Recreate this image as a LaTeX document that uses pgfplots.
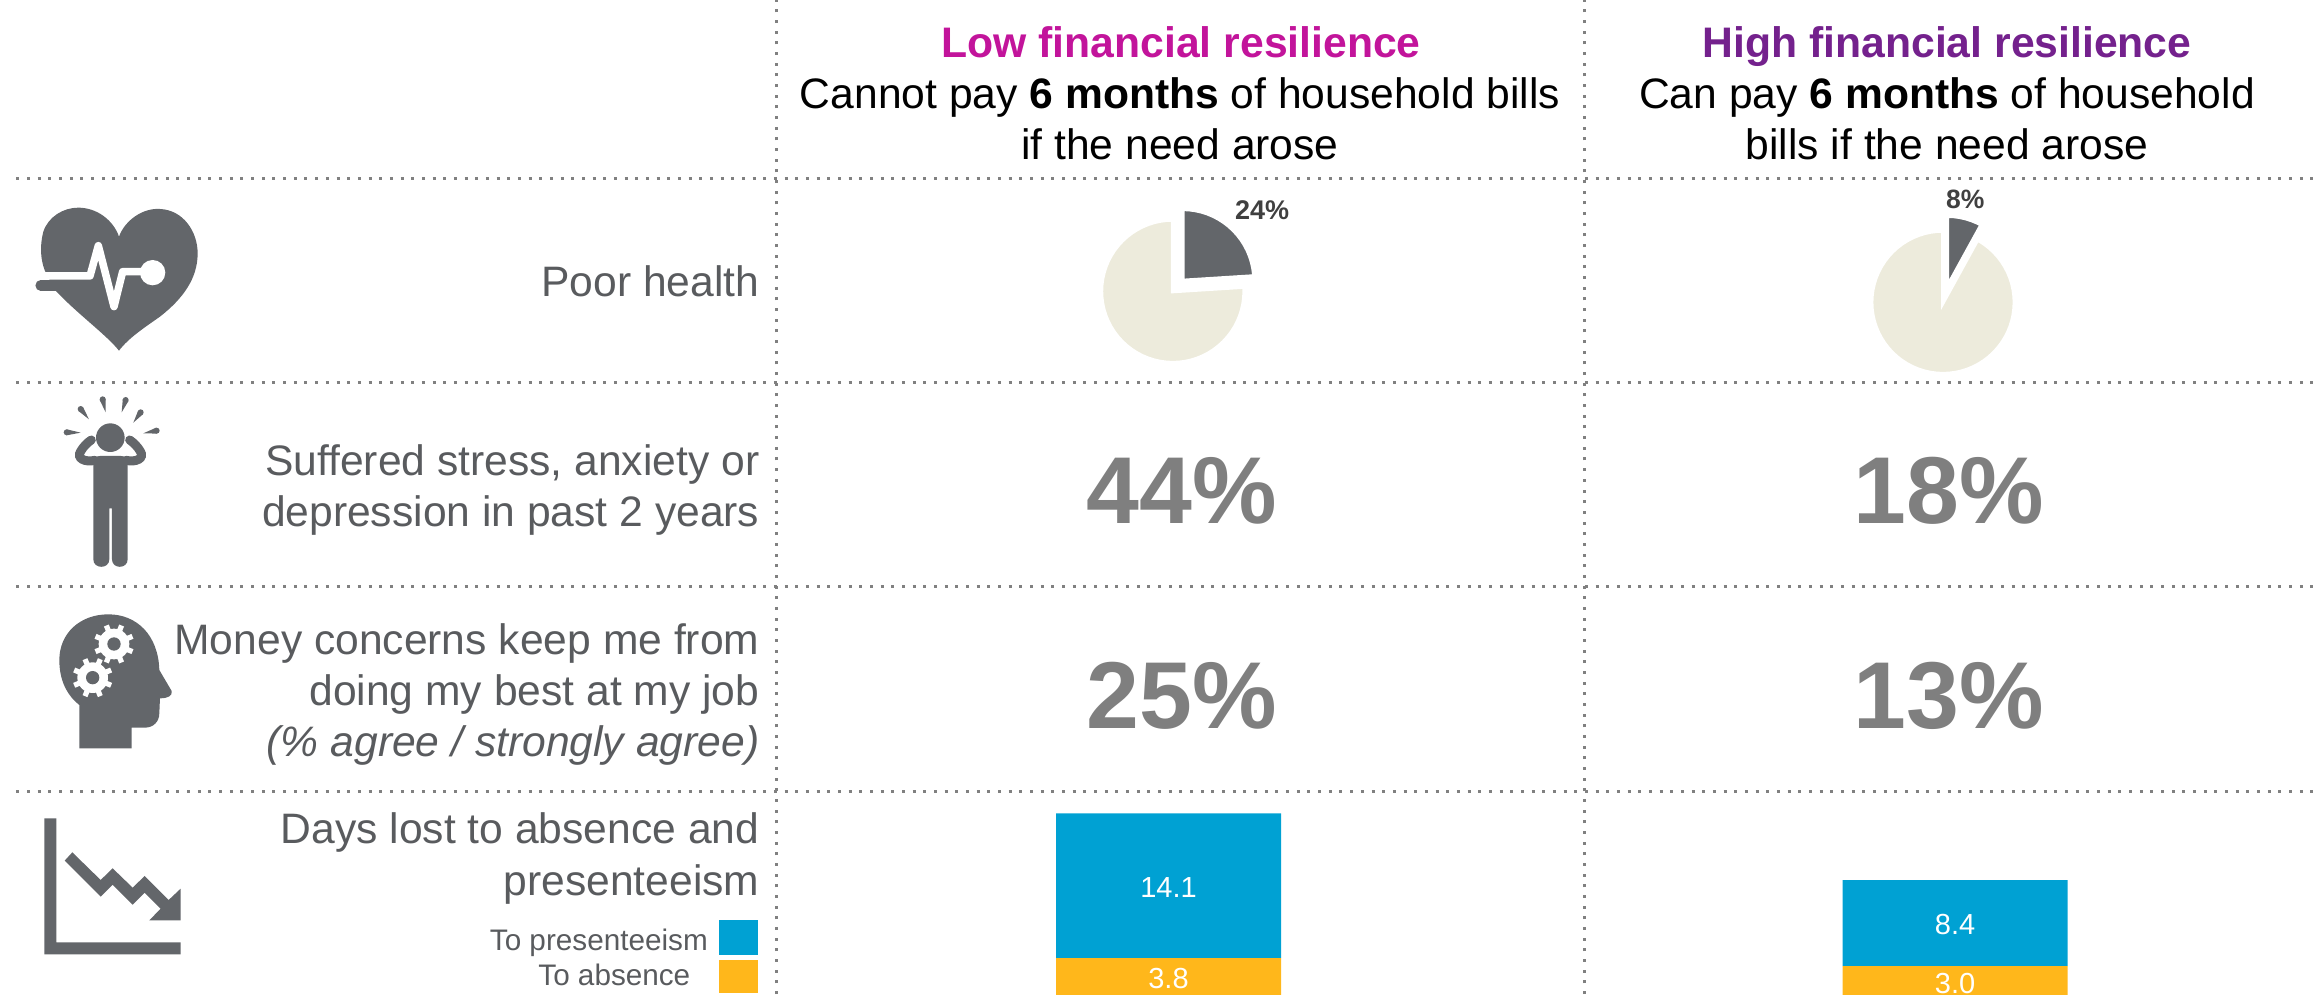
\documentclass[border=0pt]{standalone}
\usepackage{pgfplots}
\pgfplotsset{compat=1.18}
\usepgfplotslibrary{polar}
\usetikzlibrary{calc}
\usepackage{fontspec}
\setmainfont{Liberation Sans}
\pgfkeys{/pgf/number format/assume math mode=true}

\definecolor{iconGrey}{HTML}{63666A}
\definecolor{rowText}{HTML}{595B5E}
\definecolor{bigNum}{HTML}{7F7F7F}
\definecolor{dotGrey}{HTML}{808080}
\definecolor{pieCream}{HTML}{EDEBDC}
\definecolor{pieLabel}{HTML}{404040}
\definecolor{lowHead}{HTML}{C2149B}
\definecolor{highHead}{HTML}{74218D}
\definecolor{presBlue}{HTML}{00A1D3}
\definecolor{absYellow}{HTML}{FFB71B}

% text placed on its baseline
\newcommand{\txt}[5]{\node[anchor=#3,inner sep=0pt,text=#4] at (#1pt,#2pt) {#5};}
\newcommand{\fs}[1]{\fontsize{#1}{#1}\selectfont}

% a pie wedge set: one polar axis per slice, centred on the pie's pole
\pgfplotsset{
  pieaxis/.style={
    hide axis, scale only axis, clip=false,
    width=143.2pt, height=143.2pt,
    xmin=0, xmax=360, ymin=0, ymax=1,
    anchor=center
  }
}

% stress drop: round end and a point towards the head
\newcommand{\drop}[4]{%
  \fill[iconGrey] (#1,#2) circle[radius=9];
  \fill[iconGrey] ($(#1,#2)!3pt!90:(#3,#4)$) -- (#3,#4) -- ($(#1,#2)!3pt!-90:(#3,#4)$) -- cycle;}

\newcommand{\gear}[2]{%
  \begin{scope}[shift={(#1,#2)}]
    \fill[white] (0,0) circle[radius=46];
    \foreach \a in {22.5,67.5,...,360}
      \draw[white,line width=5.2pt] (\a:40) -- (\a:60);
    \fill[iconGrey] (0,0) circle[radius=20];
  \end{scope}}

\begin{document}
\begin{tikzpicture}[x=1pt,y=1pt]
\path[clip,use as bounding box] (0pt,0pt) rectangle (2315pt,994pt);

% table rules
\begin{scope}[dotGrey,line width=3pt,dash pattern=on 3pt off 7.67pt]
  \foreach \y in {178.3,382.3,586.7,791.7}
    \draw (16.4pt,{994-\y}) -- (2315pt,{994-\y});
  \draw (776pt,0pt) -- (776pt,994pt);
  \draw (1584.4pt,0pt) -- (1584.4pt,994pt);
\end{scope}

% column headers
\txt{1181}{936.7}{base}{lowHead}{\fs{42.7}\bfseries Low financial resilience}
\txt{1180}{885}{base}{black}{\fs{42.6}Cannot pay \textbf{6 months} of household bills}
\txt{1180}{834}{base}{black}{\fs{42.6}if the need arose}
\txt{1947}{936.7}{base}{highHead}{\fs{42.7}\bfseries High financial resilience}
\txt{1947}{885}{base}{black}{\fs{42.6}Can pay \textbf{6 months} of household}
\txt{1947}{834}{base}{black}{\fs{42.6}bills if the need arose}

% row labels
\txt{759.5}{697.3}{base east}{rowText}{\fs{42.6}Poor health}
\txt{759.5}{518}{base east}{rowText}{\fs{42.6}Suffered stress, anxiety or}
\txt{759.5}{467.3}{base east}{rowText}{\fs{42.6}depression in past 2 years}
\txt{759.5}{339}{base east}{rowText}{\fs{42.6}Money concerns keep me from}
\txt{759.5}{288}{base east}{rowText}{\fs{42.6}doing my best at my job}
\txt{759.5}{237.3}{base east}{rowText}{\fs{42.6}\itshape (\% agree / strongly agree)}
\txt{759.5}{151}{base east}{rowText}{\fs{42.6}Days lost to absence and}
\txt{759.5}{99}{base east}{rowText}{\fs{42.6}presenteeism}
\txt{708}{44}{base east}{rowText}{\fs{29.7}To presenteeism}
\txt{690.5}{9}{base east}{rowText}{\fs{29.7}To absence}
\fill[presBlue] (719pt,39pt) rectangle (758pt,74pt);
\fill[absYellow] (719pt,0.7pt) rectangle (758pt,34pt);

% headline percentages
\txt{1181.5}{470}{base}{bigNum}{\fs{95}\bfseries 44\%}
\txt{1948.5}{470}{base}{bigNum}{\fs{95}\bfseries 18\%}
\txt{1181.5}{266}{base}{bigNum}{\fs{95}\bfseries 25\%}
\txt{1948.5}{266}{base}{bigNum}{\fs{95}\bfseries 13\%}

% poor health, low resilience: 24%
\begin{polaraxis}[pieaxis, at={(1172.8pt,702.7pt)}]
\addplot[fill=pieCream,draw=white,line width=4pt] coordinates {(0,0)(90,1)(95,1)(100,1)(105,1)(110,1)(115,1)(120,1)(125,1)(130,1)(135,1)(140,1)(145,1)(150,1)(155,1)(160,1)(165,1)(170,1)(175,1)(180,1)(185,1)(190,1)(195,1)(200,1)(205,1)(210,1)(215,1)(220,1)(225,1)(230,1)(235,1)(240,1)(245,1)(250,1)(255,1)(260,1)(265,1)(270,1)(275,1)(280,1)(285,1)(290,1)(295,1)(300,1)(305,1)(310,1)(315,1)(320,1)(325,1)(330,1)(335,1)(340,1)(345,1)(350,1)(355,1)(360,1)(363.6,1)} -- cycle;
\end{polaraxis}
\begin{polaraxis}[pieaxis, at={(1182.7pt,713.3pt)}]
\addplot[fill=iconGrey,draw=white,line width=4pt] coordinates {(0,0)(3.6,1)(5,1)(10,1)(15,1)(20,1)(25,1)(30,1)(35,1)(40,1)(45,1)(50,1)(55,1)(60,1)(65,1)(70,1)(75,1)(80,1)(85,1)(90,1)} -- cycle;
\end{polaraxis}
\txt{1235}{774}{base west}{pieLabel}{\fs{27}\bfseries 24\%}

% poor health, high resilience: 8%
\begin{polaraxis}[pieaxis, at={(1943pt,691.7pt)}]
\addplot[fill=pieCream,draw=white,line width=4pt] coordinates {(0,0)(90,1)(95,1)(100,1)(105,1)(110,1)(115,1)(120,1)(125,1)(130,1)(135,1)(140,1)(145,1)(150,1)(155,1)(160,1)(165,1)(170,1)(175,1)(180,1)(185,1)(190,1)(195,1)(200,1)(205,1)(210,1)(215,1)(220,1)(225,1)(230,1)(235,1)(240,1)(245,1)(250,1)(255,1)(260,1)(265,1)(270,1)(275,1)(280,1)(285,1)(290,1)(295,1)(300,1)(305,1)(310,1)(315,1)(320,1)(325,1)(330,1)(335,1)(340,1)(345,1)(350,1)(355,1)(360,1)(365,1)(370,1)(375,1)(380,1)(385,1)(390,1)(395,1)(400,1)(405,1)(410,1)(415,1)(420,1)(421.2,1)} -- cycle;
\end{polaraxis}
\begin{polaraxis}[pieaxis, at={(1947pt,706.5pt)}]
\addplot[fill=iconGrey,draw=white,line width=4pt] coordinates {(0,0)(61.2,1)(65,1)(70,1)(75,1)(80,1)(85,1)(90,1)} -- cycle;
\end{polaraxis}
\txt{1946}{785.7}{base west}{pieLabel}{\fs{26.5}\bfseries 8\%}

% days lost: stacked bars, running on past the lower edge
\begin{axis}[
  at={(0pt,-3pt)}, anchor=south west,
  scale only axis, width=2315pt, height=205.2pt,
  hide axis, clip=false,
  xmin=0, xmax=2315, ymin=0, ymax=20,
  ybar stacked, bar width=225pt,
  nodes near coords={\pgfmathprintnumber[fixed,fixed zerofill,precision=1]{\pgfplotspointmeta}},
  every node near coord/.append style={text=white,font=\fs{29},inner sep=0pt,yshift=-1.5pt},
]
\addplot[fill=absYellow,draw=none] coordinates {(1168.5,3.8)(1955,3.0)};
\addplot[fill=presBlue,draw=none] coordinates {(1168.5,14.1)(1955,8.4)};
\end{axis}

% heart icon
\begin{scope}[x=0.3333pt,y=-0.3333pt,shift={(20pt,799pt)}]
  \fill[iconGrey] (297,467) .. controls (260,420) and (170,355) .. (105,285)
    -- (75,228) .. controls (60,190) and (60,150) .. (70,110)
    .. controls (85,65) and (130,38) .. (175,38)
    .. controls (230,38) and (280,75) .. (297,125)
    .. controls (315,75) and (370,38) .. (420,42)
    .. controls (490,45) and (533,110) .. (533,175)
    .. controls (533,250) and (490,310) .. (420,365)
    .. controls (370,400) and (325,430) .. (297,467) -- cycle;
  \draw[white,line width=7.5pt,line join=round] (40,243) -- (210,243) -- (235,152) -- (282,335) -- (308,230) -- (370,230);
  \fill[white] (398,233) circle[radius=38];
  \draw[iconGrey,line width=10.5pt,line cap=round] (62,271) -- (120,271);
\end{scope}

% stressed figure icon
\begin{scope}[x=0.3333pt,y=-0.3333pt,shift={(50pt,604pt)}]
  \fill[iconGrey] (181,143) circle[radius=43];
  \fill[iconGrey] (130,215) .. controls (130,205) and (140,198) .. (150,198) -- (213,198)
    .. controls (223,198) and (233,205) .. (233,215) -- (233,508)
    .. controls (233,538) and (186,538) .. (186,508) -- (186,355) -- (178,355) -- (178,508)
    .. controls (178,538) and (130,538) .. (130,508) -- cycle;
  \draw[iconGrey,line width=9pt,line cap=round] (135,211) .. controls (105,218) and (78,205) .. (92,184) .. controls (100,170) and (112,158) .. (124,150);
  \draw[iconGrey,line width=9pt,line cap=round] (228,211) .. controls (258,218) and (285,205) .. (271,184) .. controls (263,170) and (251,158) .. (239,150);
  \drop{50}{127}{92}{128}
  \drop{92}{57}{117}{88}
  \drop{158}{28}{167}{67}
  \drop{227}{30}{215}{67}
  \drop{272}{67}{250}{98}
  \drop{320}{122}{280}{130}
\end{scope}

% head with gears icon
\begin{scope}[x=0.3333pt,y=-0.3333pt,shift={(50pt,389pt)}]
  \fill[iconGrey] (88,430) -- (88,300) .. controls (50,270) and (28,225) .. (28,165)
    .. controls (28,85) and (90,28) .. (175,28)
    .. controls (260,28) and (325,90) .. (328,195)
    -- (365,258) .. controls (368,272) and (355,280) .. (330,280)
    -- (328,325) .. controls (328,350) and (310,368) .. (285,368)
    -- (245,368) -- (245,430) -- cycle;
  \gear{192}{117}
  \gear{128}{218}
\end{scope}

% falling trend icon
\begin{scope}[x=0.3333pt,y=-0.3333pt,shift={(30pt,184pt)}]
  \fill[iconGrey] (43,25) -- (79,25) -- (79,397) -- (452,397) -- (452,433) -- (43,433) -- cycle;
  \fill[iconGrey] (127,127) -- (212,210) -- (248,175) -- (308,233) -- (344,198) -- (416,270) -- (452,236)
    -- (452,331) -- (358,331) -- (392,296) -- (344,248) -- (308,284) -- (248,224) -- (212,260) -- (104,152) -- cycle;
\end{scope}
\end{tikzpicture}
\end{document}
